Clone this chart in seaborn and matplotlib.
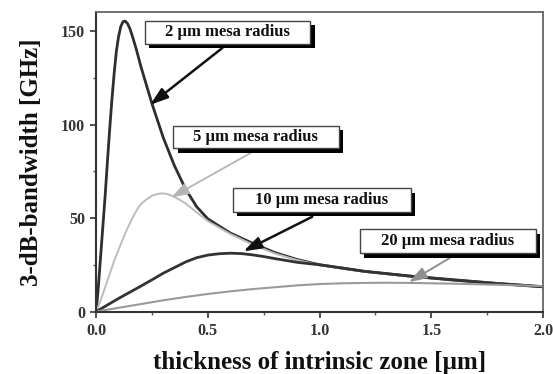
import numpy as np
import pandas as pd
import matplotlib
matplotlib.use("Agg")
import matplotlib.pyplot as plt
import matplotlib.patheffects as pe
from matplotlib.patches import FancyBboxPatch
from matplotlib.ticker import MultipleLocator
import seaborn as sns

# ---- data ----
thickness_2um = [0, 0.01, 0.02, 0.03, 0.04, 0.05, 0.06, 0.07, 0.08, 0.09,
                 0.10, 0.11, 0.12, 0.13, 0.14, 0.15, 0.16, 0.18, 0.20, 0.22,
                 0.25, 0.30, 0.35, 0.40, 0.45, 0.50, 0.60, 0.70, 0.80, 0.90,
                 1.00, 1.20, 1.40, 1.60, 1.80, 2.00]
bw_2um = [0, 14, 30, 46, 62, 80, 97, 113, 127, 139,
          147, 152.5, 155, 155.3, 154, 151.5, 148, 140, 131, 123,
          111, 93, 78, 65.5, 56, 49.5, 42, 36.5, 31.5, 27.8,
          25, 21.5, 19, 17, 15, 13.3]

thickness_5um = [0, 0.02, 0.04, 0.06, 0.08, 0.10, 0.12, 0.14, 0.16, 0.18,
                 0.20, 0.22, 0.25, 0.28, 0.30, 0.32, 0.35, 0.38, 0.40, 0.45,
                 0.50, 0.60, 0.70, 0.80, 0.90, 1.00, 1.20, 1.40, 1.60, 1.80,
                 2.00]
bw_5um = [0, 6, 13, 20, 27, 33, 39, 44.5, 49.5, 54,
          57.5, 59.5, 62, 63, 63.2, 62.8, 61.3, 59.3, 57.8, 53,
          48.3, 41.5, 35.8, 31, 27.5, 24.8, 21.3, 18.8, 16.7, 14.9,
          13.2]

thickness_10um = [0, 0.05, 0.10, 0.15, 0.20, 0.25, 0.30, 0.35, 0.40, 0.45,
                  0.50, 0.55, 0.60, 0.65, 0.70, 0.75, 0.80, 0.90, 1.00, 1.20,
                  1.40, 1.60, 1.80, 2.00]
bw_10um = [0, 3.5, 7, 10.3, 13.6, 17, 20.5, 23.5, 26.5, 28.8,
           30.2, 30.9, 31.2, 31.0, 30.3, 29.4, 28.3, 26.3, 25, 21.5,
           19, 16.8, 14.9, 13.2]

thickness_20um = [0, 0.10, 0.20, 0.30, 0.40, 0.50, 0.60, 0.70, 0.80, 0.90,
                  1.00, 1.10, 1.20, 1.30, 1.40, 1.50, 1.60, 1.80, 2.00]
bw_20um = [0, 2.0, 4.0, 6.0, 7.8, 9.4, 10.8, 12, 13, 14,
           14.7, 15.1, 15.3, 15.4, 15.3, 15.1, 14.9, 14.3, 13.6]

series_names = ["2 µm mesa radius", "5 µm mesa radius",
                "10 µm mesa radius", "20 µm mesa radius"]
series_x = [thickness_2um, thickness_5um, thickness_10um, thickness_20um]
series_values = [bw_2um, bw_5um, bw_10um, bw_20um]

x_ticks = [0.0, 0.5, 1.0, 1.5, 2.0]
x_tick_labels = ["0.0", "0.5", "1.0", "1.5", "2.0"]
y_ticks = [0, 50, 100, 150]
y_tick_labels = ["0", "50", "100", "150"]

df = pd.concat([
    pd.DataFrame({"thickness": xs, "bandwidth": ys, "series": name})
    for name, xs, ys in zip(series_names, series_x, series_values)
], ignore_index=True)

# ---- style ----
sns.set_theme(style="white")
plt.rcParams["font.family"] = ["Liberation Serif", "DejaVu Serif"]
plt.rcParams["font.weight"] = "bold"

palette = {series_names[0]: "#2e2e2e", series_names[1]: "#bdbdbd",
           series_names[2]: "#333333", series_names[3]: "#9a9a9a"}
widths = {series_names[0]: 2.0, series_names[1]: 1.4,
          series_names[2]: 2.0, series_names[3]: 1.5}

fig = plt.figure(figsize=(5.53, 3.74), dpi=100)
ax = fig.add_axes([0.174, 0.167, 0.808, 0.800])

for name in series_names:
    sns.lineplot(data=df[df["series"] == name], x="thickness", y="bandwidth",
                 color=palette[name], linewidth=widths[name], ax=ax,
                 legend=False, estimator=None, sort=False)

ax.set_xlim(0, 2.0)
ax.set_ylim(0, 160)
ax.set_xticks(x_ticks)
ax.set_xticklabels(x_tick_labels)
ax.set_yticks(y_ticks)
ax.set_yticklabels(y_tick_labels)
ax.xaxis.set_minor_locator(MultipleLocator(0.25))
ax.yaxis.set_minor_locator(MultipleLocator(25))
ax.tick_params(axis="both", which="major", direction="out", length=4,
               width=1.2, color="#333333", labelsize=11.5, pad=4,
               bottom=True, left=True, top=False, right=False,
               labelcolor="#333333")
ax.tick_params(axis="both", which="minor", direction="out", length=2.5,
               width=1.0, color="#555555", bottom=True, left=True,
               top=False, right=False)
for lab in ax.get_xticklabels() + ax.get_yticklabels():
    lab.set_fontweight("bold")

for side in ["left", "bottom"]:
    ax.spines[side].set_color("#333333")
    ax.spines[side].set_linewidth(1.5)
for side in ["top", "right"]:
    ax.spines[side].set_color("#666666")
    ax.spines[side].set_linewidth(1.3)

ax.set_xlabel("thickness of intrinsic zone [µm]", fontsize=18,
              fontweight="bold", color="#111111", labelpad=9)
ax.set_ylabel("3-dB-bandwidth [GHz]", fontsize=18, fontweight="bold",
              color="#111111", labelpad=13)

# ---- annotation boxes with shadows and arrows ----
box_extent = [(0.218, 0.959, 143.3, 155.6), (0.344, 1.085, 87.2, 99.2),
              (0.612, 1.408, 53.4, 65.8), (1.180, 1.968, 31.2, 43.9)]
arrow_from = [(0.565, 141), (0.694, 85), (0.967, 50.7), (1.582, 28.6)]
arrow_to = [(0.241, 110.5), (0.336, 61), (0.659, 32.2), (1.40, 15.7)]
arrow_colors = ["#111111", "#b5b5b5", "#111111", "#8f8f8f"]
arrow_lw = [1.8, 1.3, 1.8, 1.4]

for name, (x0, x1, y0, y1), a0, a1, ac, lw in zip(
        series_names, box_extent, arrow_from, arrow_to, arrow_colors, arrow_lw):
    ax.annotate("", xy=a1, xytext=a0,
                arrowprops=dict(arrowstyle="-|>,head_length=0.9,head_width=0.3",
                                color=ac, lw=lw, shrinkA=0, shrinkB=0),
                zorder=4)
    box = FancyBboxPatch((x0, y0), x1 - x0, y1 - y0,
                         boxstyle="square,pad=0", fc="white", ec="#444444",
                         lw=1.0, zorder=5)
    box.set_path_effects([
        pe.SimplePatchShadow(offset=(3.2, -3.2), shadow_rgbFace="black",
                             alpha=1.0),
        pe.Normal()])
    ax.add_patch(box)
    ax.text((x0 + x1) / 2, (y0 + y1) / 2, name, ha="center", va="center",
            fontsize=12, fontweight="bold", color="#111111", zorder=6)

fig.savefig("out.png", dpi=100)
